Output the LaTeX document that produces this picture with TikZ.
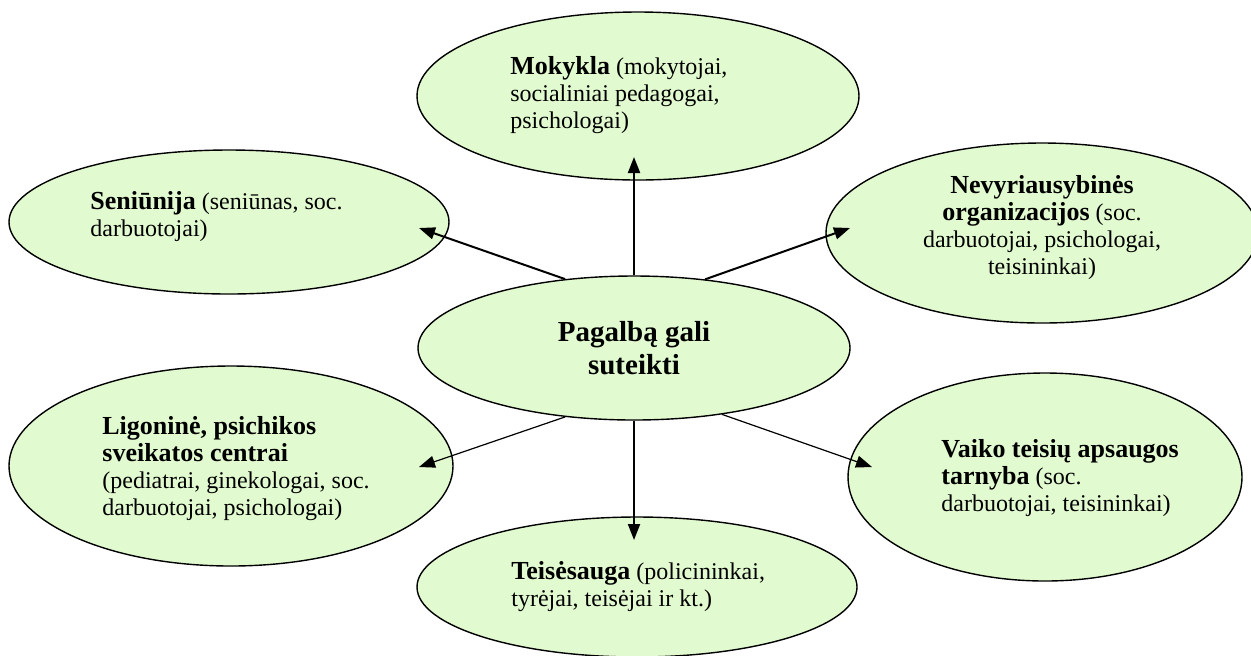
\documentclass[tikz,border=0pt]{standalone}
\usepackage{fontspec}
\setmainfont{Liberation Serif}
\usepackage{tikz}
\usetikzlibrary{shapes.geometric, arrows.meta, positioning}
\definecolor{paleGreen}{HTML}{E2FACF}
\newcommand{\orgname}[1]{{\fontsize{13}{13.5}\selectfont\bfseries #1}}

\begin{document}
\begin{tikzpicture}[x=0.5pt, y=-0.5pt,
    blob/.style={ellipse, draw=black, line width=0.7pt, fill=paleGreen, inner sep=0pt},
    txt/.style={inner sep=0pt, align=left, font=\fontsize{12}{13.5}\selectfont},
    ptr/.style={-{Triangle[length=8pt, width=6pt]}, line width=1pt},
    thinptr/.style={ptr, line width=0.6pt}]
        \useasboundingbox (0,0) rectangle (1251,655);

        % Ellipses round the centre
        \node[blob, minimum width=221pt, minimum height=84pt] (mokykla) at (638,96) {};
        \node[blob, minimum width=220pt, minimum height=72pt] (seniunija) at (229,222) {};
        \node[blob, minimum width=216pt, minimum height=90pt] (ngo) at (1042,233) {};
        \node[blob, minimum width=222pt, minimum height=100pt] (ligonine) at (231,466) {};
        \node[blob, minimum width=197pt, minimum height=104pt] (vaiko) at (1045,477) {};
        \node[blob, minimum width=220pt, minimum height=70pt] (teisesauga) at (637,587) {};
        \node[blob, minimum width=216pt, minimum height=72pt] (pagalba) at (634,348) {};

        % Texts inside the ellipses (base = last line)
        \node[txt, anchor=base west] (tMokykla) at (510,128)
            {\orgname{Mokykla} (mokytojai,\\ socialiniai pedagogai,\\ psichologai)};
        \node[txt, anchor=base west] (tSeniunija) at (90,236)
            {\orgname{Seniūnija} (seniūnas, soc.\\ darbuotojai)};
        \node[txt, anchor=base, align=center] (tNgo) at (1042,274)
            {\orgname{Nevyriausybinės}\\ \orgname{organizacijos} (soc.\\ darbuotojai, psichologai,\\ teisininkai)};
        \node[txt, anchor=base west] (tLigonine) at (102,515)
            {\orgname{Ligoninė, psichikos}\\ \orgname{sveikatos centrai}\\ (pediatrai, ginekologai, soc.\\ darbuotojai, psichologai)};
        \node[txt, anchor=base west] (tVaiko) at (941,511)
            {\orgname{Vaiko teisių apsaugos}\\ \orgname{tarnyba} (soc.\\ darbuotojai, teisininkai)};
        \node[txt, anchor=base west] (tTeisesauga) at (511,606)
            {\orgname{Teisėsauga} (policininkai,\\ tyrėjai, teisėjai ir kt.)};
        \node[inner sep=0pt, align=center, anchor=base, font=\fontsize{14.5}{16.5}\selectfont\bfseries] (tPagalba) at (634,374)
            {Pagalbą gali\\ suteikti};

        % Arrow tips
        \coordinate (tipMokykla) at (634,157);
        \coordinate (tipSeniunija) at (419,228);
        \coordinate (tipNgo) at (850,228);
        \coordinate (tipLigonine) at (419,467);
        \coordinate (tipVaiko) at (872,467);
        \coordinate (tipTeisesauga) at (634,540);

        % Arrows
        \draw[ptr] (pagalba.north) -- (tipMokykla);
        \draw[ptr] (pagalba.135) -- (tipSeniunija);
        \draw[ptr] (pagalba.44) -- (tipNgo);
        \draw[thinptr] (pagalba.225) -- (tipLigonine);
        \draw[thinptr] (pagalba.-37) -- (tipVaiko);
        \draw[ptr] (pagalba.south) -- (tipTeisesauga);
    \end{tikzpicture}
\end{document}
